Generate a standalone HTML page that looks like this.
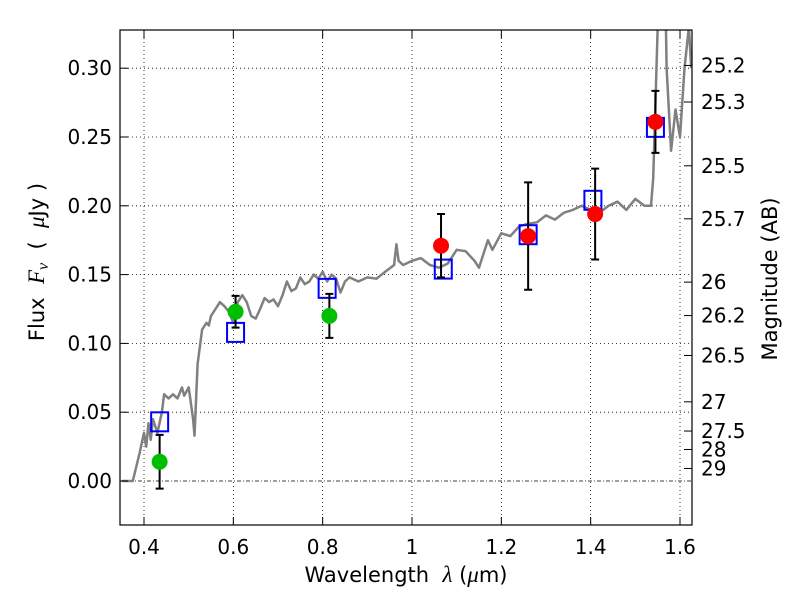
<!DOCTYPE html>
<html><head><meta charset="utf-8"><style>
body{margin:0;background:#fff}
svg text{font-family:"DejaVu Sans","Liberation Sans",sans-serif;fill:#000}
</style></head><body>
<svg id="chart" width="800" height="600" xmlns="http://www.w3.org/2000/svg">
<defs><clipPath id="clip"><rect x="120" y="30" width="572" height="495"/></clipPath></defs>
<rect x="0" y="0" width="800" height="600" fill="#fff"/>
<g id="grid"></g>
<g id="plot" clip-path="url(#clip)"></g>
<rect x="120" y="30" width="572" height="495" fill="none" stroke="#000" stroke-width="1.2"/>
<g id="axes"></g>
<text x="406" y="582" font-size="21" text-anchor="middle" xml:space="preserve">Wavelength  <tspan font-family="Liberation Serif" font-style="italic" font-size="23">λ</tspan> (<tspan font-family="Liberation Serif" font-style="italic" font-size="23">μ</tspan>m)</text>
<text transform="translate(44,262) rotate(-90)" font-size="21" text-anchor="middle" xml:space="preserve">Flux  <tspan font-family="Liberation Serif" font-style="italic" font-size="23">F<tspan font-size="16" dy="4">ν</tspan></tspan><tspan dy="-4">  (  </tspan><tspan font-family="Liberation Serif" font-style="italic" font-size="23">μ</tspan>Jy )</text>
<text transform="translate(777,279) rotate(-90)" font-size="21" text-anchor="middle">Magnitude (AB)</text>
</svg>
<script>
const xTicks=[0.4,0.6,0.8,1.0,1.2,1.4,1.6];
const xTickLabels=["0.4","0.6","0.8","1","1.2","1.4","1.6"];
const yTicks=[0,0.05,0.10,0.15,0.20,0.25,0.30];
const yTickLabels=["0.00","0.05","0.10","0.15","0.20","0.25","0.30"];
const magTicks=[25.2,25.3,25.5,25.7,26,26.2,26.5,27,27.5,28,29];
const specWave=[0.35,0.375,0.39,0.40,0.405,0.41,0.415,0.42,0.425,0.43,0.44,0.445,0.455,0.465,0.475,0.485,0.49,0.50,0.51,0.513,0.52,0.53,0.54,0.545,0.55,0.56,0.57,0.58,0.59,0.60,0.61,0.62,0.63,0.64,0.65,0.66,0.67,0.68,0.69,0.70,0.71,0.72,0.73,0.74,0.75,0.76,0.77,0.78,0.79,0.80,0.81,0.82,0.83,0.84,0.85,0.86,0.88,0.90,0.92,0.94,0.96,0.965,0.97,0.98,1.00,1.02,1.04,1.06,1.08,1.10,1.12,1.14,1.15,1.17,1.18,1.20,1.22,1.24,1.26,1.28,1.30,1.32,1.34,1.36,1.38,1.40,1.42,1.44,1.46,1.48,1.50,1.52,1.535,1.54,1.55,1.565,1.57,1.58,1.59,1.60,1.61,1.62,1.625];
const specFlux=[0,0,0.02,0.035,0.025,0.042,0.03,0.045,0.04,0.035,0.05,0.063,0.06,0.063,0.06,0.068,0.062,0.068,0.045,0.033,0.085,0.11,0.115,0.113,0.12,0.125,0.13,0.127,0.123,0.115,0.13,0.135,0.13,0.12,0.118,0.125,0.133,0.13,0.132,0.127,0.135,0.145,0.138,0.14,0.148,0.143,0.145,0.15,0.147,0.152,0.145,0.15,0.147,0.137,0.145,0.148,0.145,0.148,0.147,0.152,0.157,0.172,0.16,0.157,0.16,0.162,0.157,0.155,0.158,0.168,0.167,0.16,0.155,0.175,0.168,0.18,0.178,0.185,0.187,0.188,0.193,0.19,0.195,0.197,0.2,0.197,0.195,0.2,0.203,0.197,0.205,0.2,0.2,0.22,0.33,0.4,0.3,0.24,0.27,0.25,0.3,0.33,0.3];
const modelWave=[0.435,0.605,0.81,1.07,1.26,1.405,1.545];
const modelFlux=[0.043,0.108,0.140,0.154,0.179,0.204,0.257];
const greenWave=[0.435,0.605,0.815];
const greenFlux=[0.014,0.123,0.120];
const greenErr=[0.0195,0.0115,0.016];
const redWave=[1.065,1.26,1.41,1.545];
const redFlux=[0.171,0.178,0.194,0.261];
const redErr=[0.023,0.039,0.033,0.0225];

const NS="http://www.w3.org/2000/svg";
const X=w=>144+(w-0.4)*446.67;
const Y=f=>481-f*1376;
function mk(parent,tag,attrs){const e=document.createElementNS(NS,tag);for(const k in attrs)e.setAttribute(k,attrs[k]);document.getElementById(parent).appendChild(e);return e;}

xTicks.forEach((t,i)=>{
 const g=mk('grid','line',{x1:X(t),x2:X(t),y1:30,y2:525,stroke:'#000','stroke-width':0.8,'stroke-dasharray':'1,3'});
 
 const tk=mk('axes','line',{x1:X(t),x2:X(t),y1:525,y2:517,stroke:'#000'});
 
 const tk2=mk('axes','line',{x1:X(t),x2:X(t),y1:30,y2:38,stroke:'#000'});
 
 const l=mk('axes','text',{x:X(t),y:554,'font-size':20,'text-anchor':'middle'});l.textContent=xTickLabels[i];
 
});
yTicks.forEach((t,i)=>{
 const g=mk('grid','line',{x1:120,x2:692,y1:Y(t),y2:Y(t),stroke:'#000','stroke-width':0.8,'stroke-dasharray':t===0?'4,2,1,2':'1,3'});
 
 const tk=mk('axes','line',{x1:120,x2:128,y1:Y(t),y2:Y(t),stroke:'#000'});
 
 const l=mk('axes','text',{x:112,y:Y(t)+7,'font-size':20,'text-anchor':'end'});l.textContent=yTickLabels[i];
 
});
magTicks.forEach(m=>{
 const f=Math.pow(10,(23.9-m)/2.5);
 const tk=mk('axes','line',{x1:684,x2:692,y1:Y(f),y2:Y(f),stroke:'#000'});
 
 const l=mk('axes','text',{x:701,y:Y(f)+7,'font-size':20});l.textContent=String(m);
 
});
const sp=mk('plot','path',{d:specWave.map((w,i)=>(i?'L':'M')+X(w).toFixed(1)+','+Y(specFlux[i]).toFixed(1)).join(''),fill:'none',stroke:'#808080','stroke-width':2.5,'stroke-linejoin':'round'});

modelWave.forEach((w,i)=>{
 const r=mk('plot','rect',{x:X(w)-8.5,y:Y(modelFlux[i])-9.5,width:17,height:19,fill:'none',stroke:'#0000ff','stroke-width':2});
 
});
function pts(ws,fs,es,col,name){ws.forEach((w,i)=>{
 const x=X(w),y1=Y(fs[i]+es[i]),y2=Y(fs[i]-es[i]);
 const e=mk('plot','path',{d:`M${x},${y1}L${x},${y2}M${x-4},${y1}L${x+4},${y1}M${x-4},${y2}L${x+4},${y2}`,stroke:'#000','stroke-width':2,fill:'none'});
 
 const c=mk('plot','circle',{cx:x,cy:Y(fs[i]),r:8,fill:col});
 
});}
pts(greenWave,greenFlux,greenErr,'#00bf00','green-photometry-point');
pts(redWave,redFlux,redErr,'#ff0000','red-photometry-point');
</script>
</body></html>
